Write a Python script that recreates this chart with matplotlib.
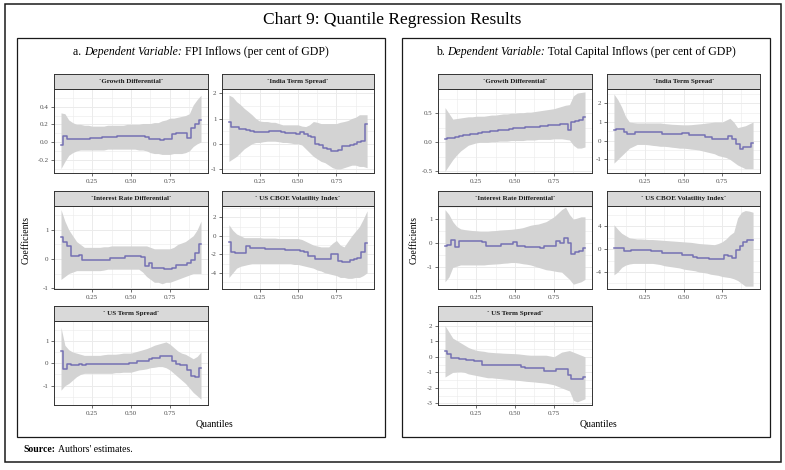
import matplotlib
matplotlib.use("Agg")
import matplotlib.pyplot as plt
from matplotlib.patches import Rectangle
from matplotlib.ticker import AutoMinorLocator

plt.rcParams["font.family"] = ["Liberation Serif", "DejaVu Serif"]

W, H = 785, 470

quantiles = [0.05, 0.075, 0.1, 0.125, 0.15, 0.175, 0.2, 0.225, 0.25, 0.275,
             0.3, 0.325, 0.35, 0.375, 0.4, 0.425, 0.45, 0.475, 0.5, 0.525,
             0.55, 0.575, 0.6, 0.625, 0.65, 0.675, 0.7, 0.725, 0.75, 0.775,
             0.8, 0.825, 0.85, 0.875, 0.9, 0.925, 0.95]

facet_names = ["`Growth Differential`", "`India Term Spread`",
               "`Interest Rate Differential`", "` US CBOE Volatility Index`",
               "` US Term Spread`"]

# panel a: FPI inflows
fpi_growth = [-0.03, 0.07, 0.04, 0.04, 0.03, 0.04, 0.04, 0.04, 0.045, 0.05, 0.05, 0.055, 0.06, 0.06, 0.06, 0.065, 0.065, 0.07, 0.07, 0.07, 0.065, 0.065, 0.06, 0.04, 0.035, 0.03, 0.02, 0.03, 0.04, 0.09, 0.1, 0.1, 0.1, 0.05, 0.16, 0.2, 0.25]
fpi_growth_hi = [0.33, 0.32, 0.25, 0.22, 0.2, 0.2, 0.19, 0.19, 0.18, 0.18, 0.18, 0.18, 0.19, 0.19, 0.19, 0.19, 0.19, 0.2, 0.2, 0.2, 0.2, 0.21, 0.21, 0.21, 0.22, 0.22, 0.24, 0.25, 0.27, 0.27, 0.28, 0.29, 0.3, 0.32, 0.42, 0.48, 0.53]
fpi_growth_lo = [-0.3, -0.22, -0.15, -0.12, -0.1, -0.09, -0.09, -0.09, -0.09, -0.09, -0.09, -0.09, -0.08, -0.08, -0.08, -0.08, -0.08, -0.08, -0.08, -0.08, -0.09, -0.09, -0.1, -0.12, -0.13, -0.13, -0.14, -0.14, -0.14, -0.13, -0.13, -0.13, -0.12, -0.1, -0.05, -0.02, 0.0]

fpi_india = [0.85, 0.68, 0.65, 0.6, 0.57, 0.55, 0.5, 0.47, 0.45, 0.45, 0.45, 0.5, 0.5, 0.5, 0.45, 0.42, 0.42, 0.42, 0.4, 0.45, 0.38, 0.3, 0.25, 0.0, -0.05, -0.15, -0.2, -0.3, -0.3, -0.25, -0.1, -0.1, -0.05, 0.0, 0.05, 0.1, 0.8]
fpi_india_hi = [1.93, 1.85, 1.67, 1.55, 1.4, 1.28, 1.15, 1.0, 0.9, 0.88, 0.88, 0.85, 0.85, 0.8, 0.75, 0.75, 0.75, 0.75, 0.75, 0.7, 0.68, 0.75, 0.88, 0.85, 0.8, 0.8, 0.8, 0.8, 0.8, 0.85, 0.88, 0.92, 1.0, 1.05, 1.15, 1.15, 1.15]
fpi_india_lo = [-0.7, -0.6, -0.5, -0.35, -0.2, -0.1, 0.0, 0.05, 0.05, 0.08, 0.1, 0.1, 0.1, 0.08, 0.05, 0.05, 0.03, 0.0, 0.0, -0.05, -0.2, -0.35, -0.5, -0.6, -0.7, -0.75, -0.85, -0.95, -1.0, -1.0, -0.95, -0.9, -0.85, -0.85, -0.9, -0.9, -0.95]

fpi_rate = [0.75, 0.6, 0.45, 0.1, 0.1, 0.15, -0.02, -0.02, -0.02, -0.02, -0.02, -0.02, -0.02, 0.05, 0.05, 0.05, 0.05, 0.1, 0.1, 0.1, 0.1, 0.08, -0.25, -0.15, -0.3, -0.3, -0.3, -0.35, -0.35, -0.3, -0.2, -0.2, -0.2, -0.15, -0.05, 0.2, 0.5]
fpi_rate_hi = [1.7, 1.3, 1.0, 0.8, 0.6, 0.5, 0.4, 0.4, 0.4, 0.4, 0.4, 0.42, 0.42, 0.45, 0.45, 0.45, 0.45, 0.45, 0.45, 0.45, 0.45, 0.45, 0.45, 0.4, 0.35, 0.35, 0.35, 0.35, 0.35, 0.4, 0.5, 0.55, 0.6, 0.7, 0.8, 1.0, 1.3]
fpi_rate_lo = [-0.7, -0.6, -0.5, -0.45, -0.4, -0.4, -0.4, -0.4, -0.4, -0.4, -0.4, -0.38, -0.35, -0.35, -0.35, -0.35, -0.35, -0.35, -0.35, -0.35, -0.35, -0.45, -0.6, -0.7, -0.8, -0.8, -0.85, -0.8, -0.8, -0.75, -0.7, -0.65, -0.6, -0.55, -0.5, -0.5, -0.5]

fpi_vix = [-0.7, -1.7, -1.9, -1.9, -1.9, -1.1, -1.3, -1.3, -1.35, -1.35, -1.4, -1.4, -1.4, -1.45, -1.45, -1.5, -1.5, -1.55, -1.55, -1.6, -1.8, -2.2, -2.2, -2.5, -2.5, -2.5, -2.5, -2.0, -2.0, -2.7, -2.8, -2.8, -2.6, -2.5, -2.4, -1.8, -0.8]
fpi_vix_hi = [1.2, 0.6, 0.2, 0.0, -0.2, -0.2, -0.2, -0.2, -0.2, -0.25, -0.25, -0.25, -0.25, -0.3, -0.3, -0.3, -0.3, -0.3, -0.3, -0.4, -0.6, -0.8, -1.0, -1.1, -1.2, -1.2, -1.2, -0.8, -0.5, -1.0, -1.2, -0.6, 0.0, 0.5, 1.0, 1.8, 2.7]
fpi_vix_lo = [-4.5, -4.0, -3.5, -3.3, -3.2, -3.1, -3.0, -3.0, -3.0, -3.0, -3.0, -3.0, -3.0, -3.0, -3.0, -3.0, -3.0, -3.1, -3.1, -3.2, -3.3, -3.4, -3.5, -3.7, -3.8, -4.0, -4.1, -4.2, -4.3, -4.5, -4.5, -4.6, -4.6, -4.5, -4.5, -4.3, -4.0]

fpi_us = [0.55, -0.25, -0.05, -0.1, -0.1, -0.05, -0.1, -0.05, -0.05, -0.05, -0.05, -0.05, -0.05, -0.05, -0.05, -0.05, -0.05, -0.05, 0.0, 0.0, 0.1, 0.1, 0.1, 0.2, 0.25, 0.25, 0.3, 0.3, 0.3, 0.1, -0.05, -0.1, -0.1, -0.3, -0.55, -0.6, -0.2]
fpi_us_hi = [1.6, 0.8, 0.6, 0.5, 0.45, 0.4, 0.35, 0.35, 0.35, 0.35, 0.35, 0.38, 0.4, 0.4, 0.4, 0.42, 0.45, 0.45, 0.45, 0.5, 0.55, 0.6, 0.65, 0.72, 0.8, 0.85, 0.9, 0.95, 0.85, 0.7, 0.55, 0.45, 0.4, 0.3, 0.2, 0.3, 0.5]
fpi_us_lo = [-1.2, -1.0, -0.9, -0.75, -0.6, -0.5, -0.45, -0.45, -0.45, -0.45, -0.45, -0.45, -0.45, -0.45, -0.42, -0.42, -0.4, -0.4, -0.4, -0.35, -0.3, -0.28, -0.25, -0.2, -0.18, -0.15, -0.15, -0.2, -0.3, -0.45, -0.6, -0.75, -0.9, -1.1, -1.3, -1.45, -1.6]

# panel b: total capital inflows
tci_growth = [0.06, 0.07, 0.08, 0.09, 0.11, 0.12, 0.13, 0.14, 0.15, 0.16, 0.17, 0.18, 0.19, 0.2, 0.21, 0.21, 0.22, 0.23, 0.24, 0.25, 0.25, 0.26, 0.26, 0.27, 0.27, 0.28, 0.28, 0.29, 0.29, 0.3, 0.31, 0.32, 0.22, 0.35, 0.36, 0.38, 0.43]
tci_growth_hi = [0.6, 0.5, 0.4, 0.41, 0.42, 0.43, 0.44, 0.44, 0.45, 0.45, 0.45, 0.46, 0.47, 0.47, 0.48, 0.49, 0.49, 0.5, 0.5, 0.51, 0.51, 0.52, 0.52, 0.53, 0.54, 0.55, 0.56, 0.57, 0.58, 0.6, 0.62, 0.64, 0.65, 0.8, 0.85, 0.86, 0.87]
tci_growth_lo = [-0.5, -0.4, -0.3, -0.22, -0.15, -0.1, -0.05, -0.03, -0.01, 0.0, 0.0, 0.0, 0.01, 0.01, 0.02, 0.02, 0.02, 0.03, 0.03, 0.03, 0.03, 0.04, 0.04, 0.04, 0.05, 0.05, 0.05, 0.05, 0.06, 0.06, 0.06, 0.05, 0.04, -0.05, -0.1, -0.1, -0.08]

tci_india = [0.6, 0.65, 0.65, 0.45, 0.35, 0.35, 0.45, 0.45, 0.45, 0.45, 0.45, 0.45, 0.45, 0.35, 0.35, 0.35, 0.35, 0.35, 0.4, 0.4, 0.3, 0.3, 0.3, 0.3, 0.2, 0.2, 0.1, 0.1, 0.1, 0.1, 0.25, 0.1, -0.2, -0.45, -0.35, -0.35, -0.1]
tci_india_hi = [2.5, 2.2, 1.8, 1.3, 1.0, 0.97, 0.95, 0.95, 0.95, 0.95, 0.95, 0.95, 0.95, 0.92, 0.9, 0.88, 0.87, 0.86, 0.85, 0.85, 0.86, 0.88, 0.9, 0.92, 0.95, 0.97, 1.0, 1.0, 1.0, 1.1, 1.2, 1.0, 0.7, 0.75, 0.8, 0.9, 1.0]
tci_india_lo = [-1.2, -1.0, -0.8, -0.6, -0.4, -0.3, -0.2, -0.2, -0.2, -0.22, -0.25, -0.27, -0.3, -0.3, -0.32, -0.35, -0.37, -0.4, -0.4, -0.42, -0.45, -0.47, -0.5, -0.55, -0.6, -0.65, -0.7, -0.8, -0.85, -0.9, -1.0, -1.15, -1.3, -1.4, -1.5, -1.5, -1.5]

tci_rate = [-0.1, -0.08, 0.15, -0.15, 0.1, 0.1, 0.1, 0.1, 0.1, 0.1, 0.05, -0.1, -0.1, -0.1, -0.1, -0.05, -0.05, -0.05, 0.05, -0.1, -0.1, -0.15, -0.15, -0.15, -0.15, -0.2, -0.1, -0.1, -0.1, 0.1, 0.0, 0.2, 0.0, -0.45, -0.35, -0.3, -0.2]
tci_rate_hi = [1.4, 1.2, 0.9, 0.7, 0.6, 0.57, 0.55, 0.53, 0.52, 0.5, 0.5, 0.5, 0.52, 0.53, 0.55, 0.56, 0.57, 0.58, 0.6, 0.62, 0.65, 0.7, 0.75, 0.78, 0.8, 0.85, 0.9, 1.0, 1.1, 1.25, 1.4, 1.5, 1.2, 1.0, 1.05, 1.1, 1.1]
tci_rate_lo = [-1.6, -1.4, -1.0, -0.95, -0.9, -0.9, -0.9, -0.9, -0.9, -0.9, -0.9, -0.88, -0.87, -0.86, -0.85, -0.83, -0.82, -0.8, -0.8, -0.82, -0.85, -0.87, -0.9, -0.95, -1.0, -1.05, -1.1, -1.12, -1.15, -1.18, -1.2, -1.35, -1.5, -1.7, -1.65, -1.6, -1.5]

tci_vix = [0.3, 0.3, 0.3, -0.3, -0.3, -0.2, -0.2, -0.2, -0.2, -0.2, -0.4, -0.4, -0.4, -0.7, -0.7, -0.7, -0.7, -0.7, -1.1, -1.1, -1.1, -1.3, -1.5, -1.5, -1.5, -1.7, -1.7, -1.7, -1.7, -1.0, -1.2, -1.6, -0.2, 0.5, 1.3, 1.6, 1.6]
tci_vix_hi = [4.3, 3.5, 2.8, 2.4, 2.0, 1.9, 1.8, 1.8, 1.75, 1.7, 1.7, 1.65, 1.6, 1.55, 1.5, 1.45, 1.4, 1.35, 1.3, 1.25, 1.2, 1.1, 1.0, 0.95, 0.9, 0.85, 0.8, 1.0, 1.3, 1.8, 2.5, 3.0, 5.5, 6.5, 6.8, 6.7, 6.5]
tci_vix_lo = [-4.5, -4.0, -3.2, -2.8, -2.6, -2.5, -2.5, -2.5, -2.5, -2.5, -2.5, -2.6, -2.7, -2.9, -3.0, -3.1, -3.2, -3.3, -3.5, -3.6, -3.7, -3.8, -4.0, -4.1, -4.2, -4.4, -4.5, -4.6, -4.8, -4.9, -5.0, -5.2, -5.5, -6.0, -6.5, -6.5, -6.5]

tci_us = [0.4, 0.2, -0.1, -0.05, -0.15, -0.15, -0.2, -0.2, -0.3, -0.3, -0.5, -0.5, -0.55, -0.55, -0.55, -0.55, -0.55, -0.5, -0.5, -0.5, -0.65, -0.7, -0.7, -0.75, -0.75, -0.75, -0.9, -0.9, -0.9, -0.8, -0.8, -0.8, -1.2, -1.45, -1.4, -1.4, -1.3]
tci_us_hi = [2.0, 1.6, 1.2, 1.05, 0.9, 0.75, 0.6, 0.5, 0.42, 0.38, 0.35, 0.3, 0.28, 0.26, 0.25, 0.23, 0.22, 0.21, 0.2, 0.18, 0.15, 0.12, 0.1, 0.1, 0.1, 0.1, 0.1, 0.05, 0.0, 0.15, 0.3, 0.35, 0.4, 0.3, 0.2, 0.1, 0.0]
tci_us_lo = [-1.3, -1.15, -1.0, -0.97, -0.95, -1.0, -1.1, -1.15, -1.2, -1.25, -1.3, -1.35, -1.35, -1.38, -1.4, -1.43, -1.45, -1.48, -1.5, -1.52, -1.55, -1.58, -1.6, -1.62, -1.65, -1.67, -1.7, -1.75, -1.8, -1.9, -2.0, -2.1, -2.2, -2.8, -2.9, -2.8, -2.7]

fpi_ylims = [(-0.35, 0.6), (-1.16, 2.17), (-1.03, 1.82), (-5.75, 3.22), (-1.86, 1.88)]
fpi_yticks = [[-0.2, 0.0, 0.2, 0.4], [-1, 0, 1, 2], [-1, 0, 1], [-4, -2, 0, 2], [-1, 0, 1]]
fpi_ylabels = [["-0.2", "0.0", "0.2", "0.4"], ["-1", "0", "1", "2"], ["-1", "0", "1"],
               ["-4", "-2", "0", "2"], ["-1", "0", "1"]]

tci_ylims = [(-0.53, 0.92), (-1.73, 2.77), (-1.9, 1.55), (-7.0, 7.6), (-3.1, 2.3)]
tci_yticks = [[-0.5, 0.0, 0.5], [-1, 0, 1, 2], [-1, 0, 1], [-4, 0, 4], [-3, -2, -1, 0, 1, 2]]
tci_ylabels = [["-0.5", "0.0", "0.5"], ["-1", "0", "1", "2"], ["-1", "0", "1"],
               ["-4", "0", "4"], ["-3", "-2", "-1", "0", "1", "2"]]

xticks = [0.25, 0.5, 0.75]
xlabels = ["0.25", "0.50", "0.75"]

fpi = [(fpi_growth, fpi_growth_lo, fpi_growth_hi), (fpi_india, fpi_india_lo, fpi_india_hi),
       (fpi_rate, fpi_rate_lo, fpi_rate_hi), (fpi_vix, fpi_vix_lo, fpi_vix_hi),
       (fpi_us, fpi_us_lo, fpi_us_hi)]
tci = [(tci_growth, tci_growth_lo, tci_growth_hi), (tci_india, tci_india_lo, tci_india_hi),
       (tci_rate, tci_rate_lo, tci_rate_hi), (tci_vix, tci_vix_lo, tci_vix_hi),
       (tci_us, tci_us_lo, tci_us_hi)]

LINE = "#7570b3"
BAND = "#d3d3d3"
DARK = "#333333"

fig = plt.figure(figsize=(W / 100, H / 100), dpi=100)


def px_axes(x0, y0, x1, y1):
    return fig.add_axes([x0 / W, 1 - y1 / H, (x1 - x0) / W, (y1 - y0) / H])


def frame(x0, y0, x1, y1, lw):
    fig.add_artist(Rectangle((x0 / W, 1 - y1 / H), (x1 - x0) / W, (y1 - y0) / H,
                             transform=fig.transFigure, fill=False, lw=lw, ec="#1a1a1a"))


def parts_text(xc, yc, parts, size):
    r = fig.canvas.get_renderer()
    items = []
    for s, kw in parts:
        t = fig.text(0, 1 - yc / H, s, fontsize=size, va="center", ha="left", **kw)
        items.append((t, t.get_window_extent(r).width))
    x = xc - sum(w for _, w in items) / 2
    for t, w in items:
        t.set_x(x / W)
        x += w


frame(5, 4, 781, 462, 1.1)
frame(17, 38, 385, 437, 0.9)
frame(402, 38, 770, 437, 0.9)

fig.text(392 / W, 1 - 20 / H, "Chart 9: Quantile Regression Results",
         fontsize=12.5, ha="center", va="center")
parts_text(201, 52, [("a. ", {}), ("Dependent Variable:", {"style": "italic"}),
                     (" FPI Inflows (per cent of GDP)", {})], 8.5)
parts_text(586, 52, [("b. ", {}), ("Dependent Variable:", {"style": "italic"}),
                     (" Total Capital Inflows (per cent of GDP)", {})], 8.5)

rows = [(74, 89, 173), (191, 206, 289), (306, 321, 405)]
panels = [
    (fpi, fpi_ylims, fpi_yticks, fpi_ylabels, [(54, 208), (222, 374)], 214, 26),
    (tci, tci_ylims, tci_yticks, tci_ylabels, [(438, 592), (607, 760)], 599, 414),
]

for series, ylims, yticks, ylabels, cols, xmid, ylab_x in panels:
    for i, (coef, lo, hi) in enumerate(series):
        c0, c1 = cols[i % 2]
        s0, p0, p1 = rows[i // 2]
        ax = px_axes(c0, p0, c1, p1)
        ax.fill_between(quantiles, lo, hi, color=BAND, lw=0, zorder=2)
        ax.plot(quantiles, coef, drawstyle="steps-mid", color=LINE, lw=1.1, zorder=3)
        ax.set_xlim(0.005, 0.995)
        ax.set_ylim(*ylims[i])
        ax.set_xticks(xticks)
        ax.set_xticklabels(xlabels)
        ax.set_yticks(yticks[i])
        ax.set_yticklabels(ylabels[i])
        ax.xaxis.set_minor_locator(AutoMinorLocator(2))
        ax.yaxis.set_minor_locator(AutoMinorLocator(2))
        ax.grid(which="major", color="#ebebeb", lw=0.7, zorder=0)
        ax.grid(which="minor", color="#ebebeb", lw=0.4, zorder=0)
        ax.set_axisbelow(True)
        ax.tick_params(which="major", length=2, width=0.5, color=DARK,
                       labelsize=5, labelcolor="#4d4d4d", pad=2)
        ax.tick_params(which="minor", length=0)
        for sp in ax.spines.values():
            sp.set_color(DARK)
            sp.set_linewidth(0.7)

        st = px_axes(c0, s0, c1, p0)
        st.set_facecolor("#d9d9d9")
        st.set_xticks([])
        st.set_yticks([])
        for sp in st.spines.values():
            sp.set_color(DARK)
            sp.set_linewidth(0.7)
        st.text(0.5, 0.5, facet_names[i], transform=st.transAxes, ha="center",
                va="center", fontsize=5, fontweight="bold", color="#1a1a1a")

    fig.text(xmid / W, 1 - 424 / H, "Quantiles", fontsize=7, ha="center", va="center")
    fig.text(ylab_x / W, 1 - 240 / H, "Coefficients", fontsize=7, rotation=90,
             ha="center", va="center")

parts_text(78, 450, [("Source:", {"fontweight": "bold"}), (" Authors' estimates.", {})], 7)

fig.savefig("out.png", dpi=100)
